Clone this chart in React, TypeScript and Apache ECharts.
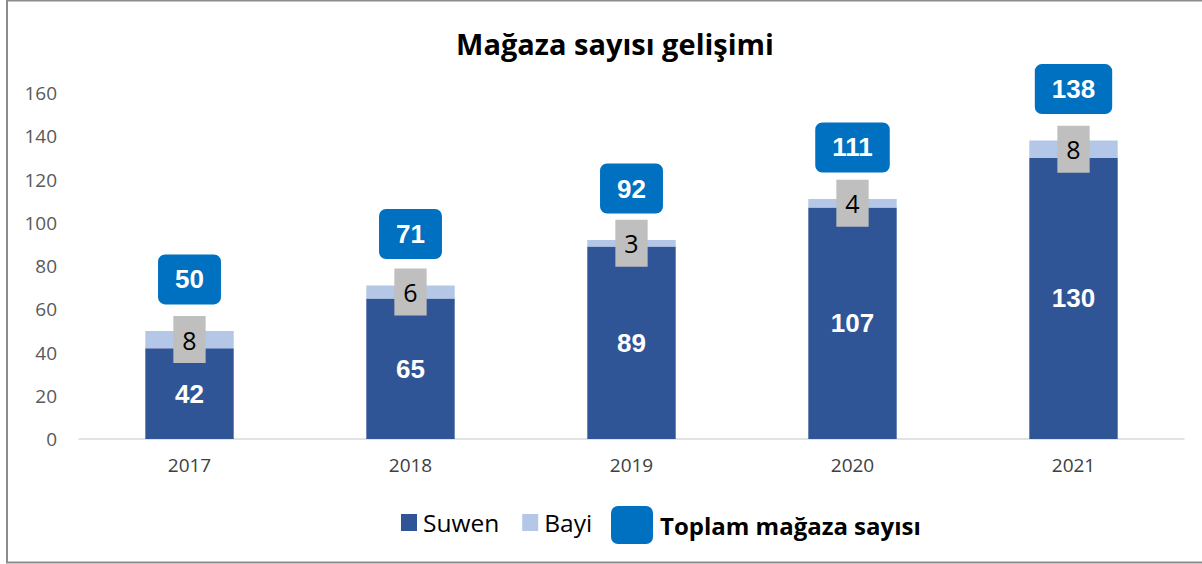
import React, { useEffect, useRef } from "react";
import * as echarts from "echarts";

const years = ["2017", "2018", "2019", "2020", "2021"];
const suwen = [42, 65, 89, 107, 130];
const bayi = [8, 6, 3, 4, 8];
const toplam = [50, 71, 92, 111, 138];
const yTicks = { min: 0, max: 160, interval: 20 };

export default function App() {
  const ref = useRef<HTMLDivElement>(null);
  useEffect(() => {
    if (!ref.current) return;
    const chart = echarts.init(ref.current, null, { renderer: "svg" });
    chart.setOption({
      animation: false,
      backgroundColor: "#ffffff",
      title: {
        text: "Mağaza sayısı gelişimi",
        left: 610,
        textAlign: "center",
        top: 24,
        textStyle: { fontFamily: "Open Sans", fontWeight: "bold", fontSize: 29, color: "#000000" },
      },
      grid: { left: 79, right: 18, top: 93, bottom: 125, containLabel: false },
      xAxis: {
        type: "category",
        data: years,
        axisTick: { show: false },
        axisLine: { lineStyle: { color: "#d9d9d9", width: 1.5 } },
        axisLabel: { color: "#404040", fontFamily: "Open Sans", fontSize: 19, margin: 16 },
      },
      yAxis: {
        type: "value",
        min: yTicks.min,
        max: yTicks.max,
        interval: yTicks.interval,
        splitLine: { show: false },
        axisLine: { show: false },
        axisTick: { show: false },
        axisLabel: { color: "#595959", fontFamily: "Open Sans", fontSize: 19, margin: 22 },
      },
      legend: [
        {
          data: ["Suwen", "Bayi"],
          left: 401,
          top: 510,
          padding: 0,
          itemWidth: 16,
          itemHeight: 17,
          itemGap: 23,
          icon: "rect",
          textStyle: { fontFamily: "Open Sans", fontSize: 24.5, color: "#000000", padding: [0, 0, 0, 1] },
        },
        {
          data: [{ name: "Toplam mağaza sayısı", itemStyle: { color: "#0070C0", opacity: 1 } }],
          left: 611,
          top: 506,
          padding: 0,
          itemWidth: 42,
          itemHeight: 38,
          icon: "path://M7,0 L35,0 A7,7 0 0 1 42,7 L42,31 A7,7 0 0 1 35,38 L7,38 A7,7 0 0 1 0,31 L0,7 A7,7 0 0 1 7,0 Z",
          textStyle: { fontFamily: "Open Sans", fontWeight: "bold", fontSize: 24, color: "#000000", padding: [0, 0, 0, 2] },
        },
      ],
      series: [
        {
          name: "Suwen",
          type: "bar",
          stack: "t",
          barWidth: "40%",
          data: suwen,
          itemStyle: { color: "#2F5597" },
          label: {
            show: true,
            position: "inside",
            color: "#ffffff",
            fontFamily: "Liberation Sans",
            fontWeight: "bold",
            fontSize: 26,
          },
        },
        {
          name: "Bayi",
          type: "bar",
          stack: "t",
          data: bayi,
          itemStyle: { color: "#B4C7E7" },
          label: {
            show: true,
            position: "inside",
            color: "#000000",
            fontFamily: "Open Sans",
            fontSize: 25,
            lineHeight: 25,
            backgroundColor: "#BFBFBF",
            padding: [11, 9],
          },
        },
        {
          name: "Toplam mağaza sayısı",
          type: "line",
          data: toplam,
          symbol: "circle",
          symbolSize: 1,
          lineStyle: { opacity: 0, width: 0 },
          itemStyle: { color: "rgba(0,112,192,0)" },
          label: {
            show: true,
            position: "top",
            distance: 26,
            color: "#ffffff",
            fontFamily: "Liberation Sans",
            fontWeight: "bold",
            fontSize: 26,
            lineHeight: 26,
            backgroundColor: "#0070C0",
            borderRadius: 7,
            padding: [12, 17],
          },
        },
      ],
      graphic: [
        {
          type: "rect",
          shape: { x: 7, y: 0.5, width: 1210, height: 562 },
          style: { fill: "none", stroke: "#8c8c8c", lineWidth: 2 },
          silent: true,
        },
      ],
    });
    return () => chart.dispose();
  }, []);
  return (
    <div style={{ position: "fixed", left: 0, top: 0, width: 1202, height: 564 }}>
      <div ref={ref} style={{ width: 1202, height: 564 }} />
    </div>
  );
}
